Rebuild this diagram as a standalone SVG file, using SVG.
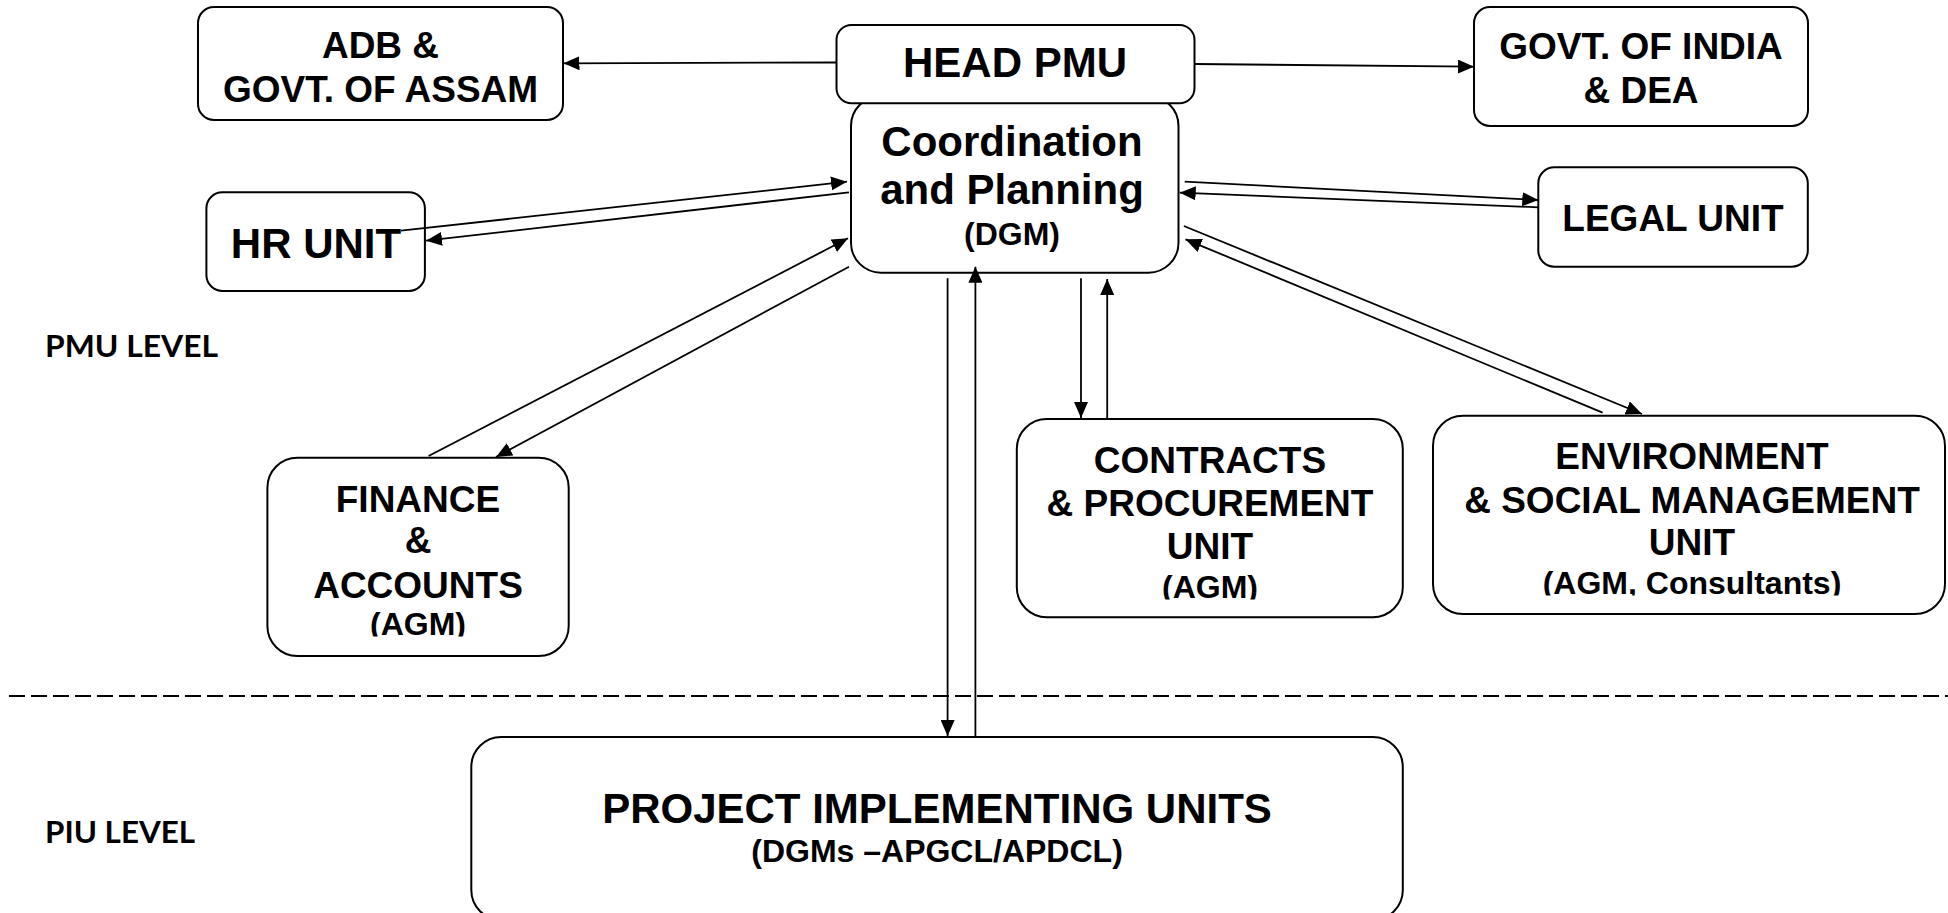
<svg xmlns="http://www.w3.org/2000/svg" width="1948" height="913" viewBox="0 0 1948 913">
<style>
.box{fill:#fff;stroke:#000;stroke-width:2}
.t{font-family:"Liberation Sans",Arial,sans-serif;font-weight:bold;fill:#000;text-anchor:middle}
.f37{font-size:37px}
.f42{font-size:42px}
.f32{font-size:32px}
.lvl{font-family:Lato,"Liberation Sans",sans-serif;font-weight:bold;font-size:31px;fill:#000}
.c{stroke:#000;stroke-width:1.8;fill:none}
.a{marker-end:url(#arr)}
.dash{stroke:#000;stroke-width:2;stroke-dasharray:16 6;fill:none}
</style>
<defs>
<marker id="arr" markerUnits="userSpaceOnUse" markerWidth="16" markerHeight="14" refX="16" refY="7" orient="auto">
<path d="M0,0 L16,7 L0,14 z" fill="#000"/>
</marker>
<clipPath id="clipFin"><rect x="260" y="600" width="320" height="36.5"/></clipPath>
<clipPath id="clipCon"><rect x="1010" y="560" width="400" height="39.5"/></clipPath>
<clipPath id="clipEnv"><rect x="1430" y="555" width="515" height="40.5"/></clipPath>
</defs>
<rect width="1948" height="913" fill="#fff"/>
<g id="labels">
<text class="lvl" x="45" y="357" textLength="173" lengthAdjust="spacingAndGlyphs">PMU LEVEL</text>
<text class="lvl" x="45" y="843" textLength="150" lengthAdjust="spacingAndGlyphs">PIU LEVEL</text>
</g>
<line id="level-divider" class="dash" x1="9" y1="696" x2="1948" y2="696"/>
<g id="adb">
<rect class="box" x="198" y="7" width="365" height="113" rx="16"/>
<text class="t f37" x="380.5" y="58">ADB &amp;</text>
<text class="t f37" x="380.5" y="101.5">GOVT. OF ASSAM</text>
</g>
<g id="govt-india">
<rect class="box" x="1474" y="7" width="334" height="119" rx="16"/>
<text class="t f37" x="1641" y="59">GOVT. OF INDIA</text>
<text class="t f37" x="1641" y="102.5">&amp; DEA</text>
</g>
<g id="coordination">
<rect class="box" x="851" y="96" width="327.5" height="176.7" rx="30"/>
<text class="t f42" x="1012" y="156">Coordination</text>
<text class="t f42" x="1012" y="204">and Planning</text>
<text class="t f32" x="1012" y="245">(DGM)</text>
</g>
<g id="head-pmu">
<rect class="box" x="836.5" y="25" width="358" height="78.3" rx="15"/>
<text class="t f42" x="1015" y="77.3">HEAD PMU</text>
</g>
<g id="hr-unit">
<rect class="box" x="206.4" y="192.3" width="218.5" height="98.7" rx="16"/>
<text class="t f42" x="316" y="258.3">HR UNIT</text>
</g>
<g id="legal-unit">
<rect class="box" x="1538.3" y="167.3" width="269.5" height="99.4" rx="16"/>
<text class="t f37" x="1673" y="230.7">LEGAL UNIT</text>
</g>
<g id="finance">
<rect class="box" x="267.4" y="457.7" width="301.3" height="198.3" rx="30"/>
<text class="t f37" x="418" y="511.7">FINANCE</text>
<text class="t f37" x="418" y="553.3">&amp;</text>
<text class="t f37" x="418" y="598.3">ACCOUNTS</text>
<text class="t f32" x="418" y="635" clip-path="url(#clipFin)">(AGM)</text>
</g>
<g id="contracts">
<rect class="box" x="1016.8" y="419" width="386" height="198.3" rx="30"/>
<text class="t f37" x="1210" y="473.3">CONTRACTS</text>
<text class="t f37" x="1210" y="516">&amp; PROCUREMENT</text>
<text class="t f37" x="1210" y="559.3">UNIT</text>
<text class="t f32" x="1210" y="598" clip-path="url(#clipCon)">(AGM)</text>
</g>
<g id="environment">
<rect class="box" x="1433" y="415.7" width="512" height="198.3" rx="30"/>
<text class="t f37" x="1692" y="469.3">ENVIRONMENT</text>
<text class="t f37" x="1692" y="512.7">&amp; SOCIAL MANAGEMENT</text>
<text class="t f37" x="1692" y="555">UNIT</text>
<text class="t f32" x="1692" y="594" clip-path="url(#clipEnv)">(AGM, Consultants)</text>
</g>
<g id="piu">
<rect class="box" x="471.3" y="737" width="931.5" height="183" rx="30"/>
<text class="t f42" x="937" y="823.3">PROJECT IMPLEMENTING UNITS</text>
<text class="t f32" x="937" y="861.7">(DGMs –APGCL/APDCL)</text>
</g>
<g id="connectors">
<line class="c a" x1="836.5" y1="62.5" x2="563.5" y2="63.3"/>
<line class="c a" x1="1194.5" y1="64" x2="1474" y2="66.7"/>
<line class="c a" x1="401" y1="230.7" x2="847" y2="181.7"/>
<line class="c a" x1="849" y1="192.3" x2="426" y2="240.7"/>
<line class="c a" x1="1184.7" y1="181.7" x2="1538.3" y2="200"/>
<line class="c a" x1="1538.3" y1="207.3" x2="1179.7" y2="192.7"/>
<line class="c a" x1="428.6" y1="456" x2="848" y2="238.3"/>
<line class="c a" x1="849" y1="266.7" x2="496" y2="457"/>
<line class="c a" x1="1183.9" y1="226" x2="1642" y2="414"/>
<line class="c a" x1="1602.6" y1="412.7" x2="1185.5" y2="239.3"/>
<line class="c a" x1="1081" y1="278.3" x2="1081" y2="418"/>
<line class="c a" x1="1107.2" y1="418" x2="1107.2" y2="279"/>
<line class="c a" x1="947.6" y1="278.3" x2="947.6" y2="736"/>
<line class="c a" x1="975.4" y1="736.7" x2="975.4" y2="266.7"/>
</g>
</svg>
